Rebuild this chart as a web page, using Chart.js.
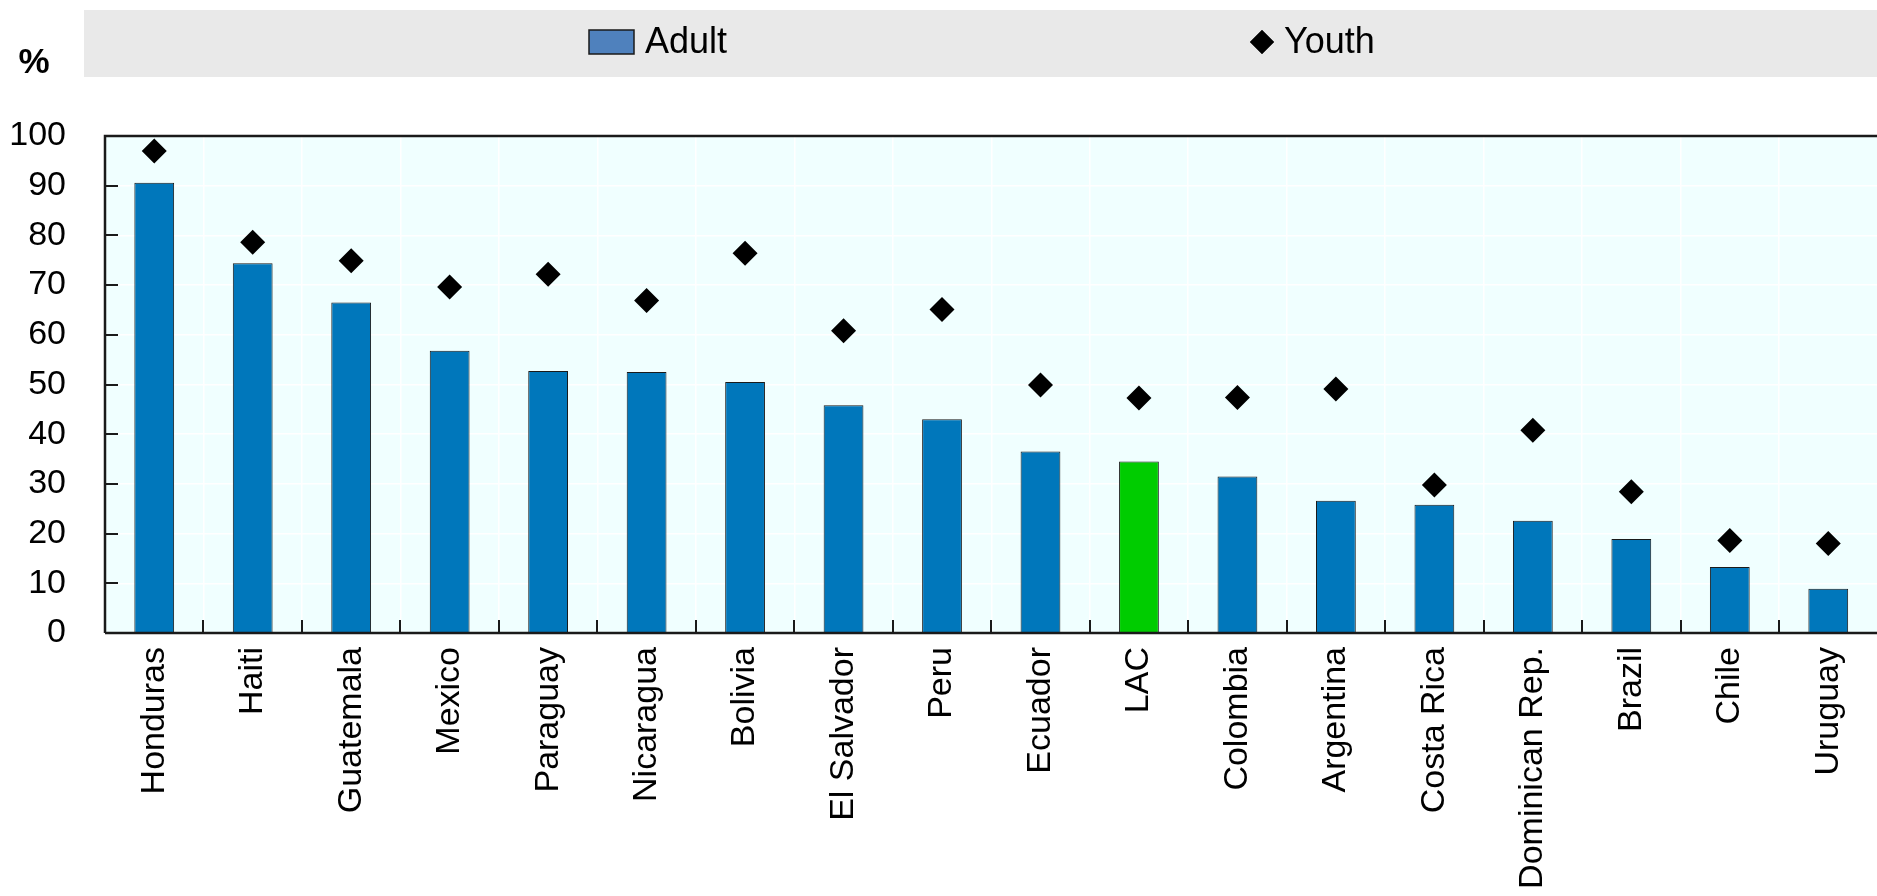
<!DOCTYPE html>
<html>
<head>
<meta charset="utf-8">
<script src="https://cdn.jsdelivr.net/npm/chart.js@4.4.1/dist/chart.umd.min.js"></script>
<style>
  html, body { margin: 0; padding: 0; background: #fff; overflow: hidden; }
  canvas { display: block; }
</style>
</head>
<body>
<canvas id="chart" width="1890" height="896" style="width:1890px;height:896px"></canvas>
<script>
const categories = ['Honduras', 'Haiti', 'Guatemala', 'Mexico', 'Paraguay', 'Nicaragua', 'Bolivia',
  'El Salvador', 'Peru', 'Ecuador', 'LAC', 'Colombia', 'Argentina', 'Costa Rica',
  'Dominican Rep.', 'Brazil', 'Chile', 'Uruguay'];
const adultValues = [90.6, 74.4, 66.5, 56.8, 52.7, 52.5, 50.5, 45.8, 43.0, 36.5, 34.5, 31.5, 26.6, 25.8, 22.6, 18.9, 13.3, 8.9];
const youthValues = [97.0, 78.6, 74.9, 69.6, 72.2, 66.9, 76.4, 60.8, 65.1, 49.9, 47.3, 47.4, 49.1, 29.8, 40.8, 28.4, 18.6, 18.0];
const yTicks = [0, 10, 20, 30, 40, 50, 60, 70, 80, 90, 100];

// no narrow face installed, so a plain sans at a smaller size keeps the label lengths
const FONT = "'Liberation Sans', Arial, sans-serif";
const barColors = categories.map(c => c === 'LAC' ? '#00cc00' : '#0077bb');

// plot background, legend band, frame and inward tick marks
const decor = {
  id: 'decor',
  beforeDraw(chart) {
    const ctx = chart.ctx;
    const a = chart.chartArea;
    ctx.save();
    ctx.fillStyle = '#e9e9e9';
    ctx.fillRect(84, 10, chart.width - 84, 67);
    ctx.fillStyle = '#f0ffff';
    ctx.fillRect(a.left, a.top, a.right - a.left, a.bottom - a.top);

    ctx.fillStyle = '#000';
    ctx.font = 'bold 35px ' + FONT;
    ctx.textAlign = 'center';
    ctx.textBaseline = 'alphabetic';
    ctx.fillText('%', 34, 73);

    // legend
    ctx.font = '36px ' + FONT;
    ctx.textAlign = 'left';
    ctx.textBaseline = 'middle';
    ctx.fillStyle = '#4f81bd';
    ctx.fillRect(589, 30, 45, 24);
    ctx.strokeStyle = '#1a1a1a';
    ctx.lineWidth = 1.5;
    ctx.strokeRect(589, 30, 45, 24);
    ctx.fillStyle = '#000';
    ctx.fillText('Adult', 645, 43);
    Chart.helpers.drawPoint(ctx, {pointStyle: 'rectRot', radius: 12, borderWidth: 0}, 1262, 42);
    ctx.fill();
    ctx.fillText('Youth', 1284, 43);
    ctx.restore();
  },
  afterDatasetsDraw(chart) {
    const ctx = chart.ctx;
    const a = chart.chartArea;
    const x = chart.scales.x;
    const y = chart.scales.y;
    ctx.save();
    ctx.strokeStyle = '#1a1a1a';
    ctx.lineWidth = 2;
    ctx.beginPath();
    yTicks.forEach(v => {
      const py = Math.round(y.getPixelForValue(v));
      ctx.moveTo(a.left, py);
      ctx.lineTo(a.left + 13, py);
    });
    for (let i = 1; i < categories.length; i++) {
      const px = Math.round((x.getPixelForValue(i - 1) + x.getPixelForValue(i)) / 2);
      ctx.moveTo(px, a.bottom);
      ctx.lineTo(px, a.bottom - 13);
    }
    ctx.stroke();
    ctx.lineWidth = 2.5;
    ctx.beginPath();
    ctx.moveTo(a.left, a.bottom);
    ctx.lineTo(a.left, a.top);
    ctx.lineTo(a.right, a.top);
    ctx.moveTo(a.left, a.bottom);
    ctx.lineTo(a.right, a.bottom);
    ctx.stroke();
    ctx.restore();
  }
};

const chart = new Chart(document.getElementById('chart'), {
  data: {
    labels: categories,
    datasets: [{
      type: 'line',
      label: 'Youth',
      data: youthValues,
      showLine: false,
      pointStyle: 'rectRot',
      pointRadius: 12.5,
      pointBackgroundColor: '#000',
      pointBorderWidth: 0,
      order: 0
    }, {
      type: 'bar',
      label: 'Adult',
      data: adultValues,
      backgroundColor: barColors,
      borderColor: '#1a1a1a',
      borderWidth: 1,
      categoryPercentage: 1,
      barPercentage: 0.404,
      order: 1
    }]
  },
  options: {
    responsive: false,
    animation: false,
    layout: { padding: { top: 136, right: 2, left: 0, bottom: 0 } },
    plugins: { legend: { display: false }, tooltip: { enabled: false } },
    scales: {
      x: {
        offset: true,
        grid: { offset: true, color: '#ffffff', lineWidth: 1.5, drawTicks: false },
        border: { display: false },
        ticks: {
          color: '#000', font: { family: FONT, size: 34 },
          minRotation: 90, maxRotation: 90, padding: 14, autoSkip: false
        },
        afterFit(scale) { scale.height = 263; scale.paddingLeft = 0; scale.paddingRight = 0; }
      },
      y: {
        min: 0, max: 100,
        grid: { color: '#ffffff', lineWidth: 1.5, drawTicks: false },
        border: { display: false },
        ticks: { stepSize: 10, autoSkip: false, color: '#000', font: { family: FONT, size: 34 }, padding: 39 },
        afterFit(scale) { scale.width = 105; }
      }
    }
  },
  plugins: [decor]
});
</script>
</body>
</html>
